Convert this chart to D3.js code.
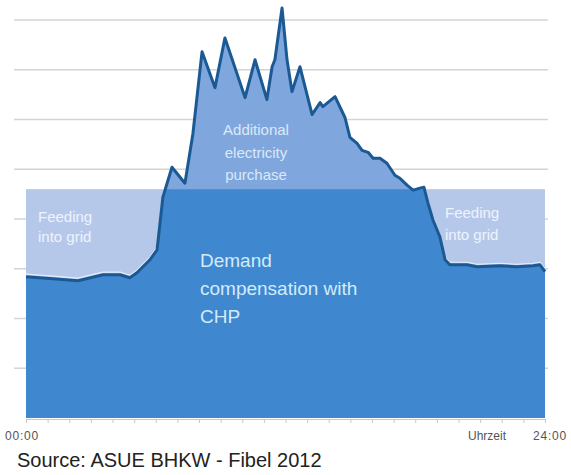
<!DOCTYPE html>
<html>
<head>
<meta charset="utf-8">
<script src="https://cdn.jsdelivr.net/npm/d3@7/dist/d3.min.js"></script>
<style>
  html, body { margin: 0; padding: 0; background: #ffffff; }
  svg { display: block; font-family: "Liberation Sans", Arial, sans-serif; }
</style>
</head>
<body>
<svg id="chart" width="571" height="475"></svg>
<script>
// Daily electricity demand profile (hour of day -> load, kW)
const hours = [0, 1.25, 2.4, 3.56, 4.35, 4.8, 5.13, 5.73, 6.06, 6.33, 6.75, 7.35, 7.72,
  8.14, 8.74, 9.2, 10.13, 10.59, 11.14, 11.38, 11.51, 11.84, 12.07, 12.3, 12.67, 13.23,
  13.6, 13.73, 14.29, 14.75, 14.98, 15.31, 15.54, 15.82, 16.05, 16.37, 16.69, 17.06,
  17.29, 17.62, 17.9, 18.22, 18.4, 18.59, 18.82, 19.14, 19.38, 19.6, 20.39, 20.86,
  21.92, 22.7, 23.44, 23.77, 24];
const demand = [142, 140, 138, 144, 144, 141, 146, 159, 169, 222, 252, 236, 286,
  368, 332, 382, 322, 360, 320, 353, 360, 412, 360, 328, 353, 305,
  317, 313, 323, 302, 282, 276, 269, 267, 261, 261, 256, 244,
  241, 234, 229, 231, 232, 216, 199, 182, 159, 154, 154, 152,
  153, 152, 153, 154, 147];
// Constant CHP output
const chpLevel = 230;
const gridValues = [0, 50, 100, 150, 200, 250, 300, 350, 400];
const hourTicks = d3.range(0, 25);
const axisLabels = ["00:00", "Uhrzeit", "24:00"];
const areaLabels = {
  purchase: ["Additional", "electricity", "purchase"],
  feedLeft: ["Feeding", "into grid"],
  feedRight: ["Feeding", "into grid"],
  chp: ["Demand", "compensation with", "CHP"]
};
const sourceText = "Source: ASUE BHKW - Fibel 2012";

const svg = d3.select("#chart");
const x = d3.scaleLinear().domain([0, 24]).range([26, 545]);
const y = d3.scaleLinear().domain([0, 400]).range([418, 20]);

const pts = hours.map((h, i) => ({ h, v: demand[i] }));
const demandArea = d3.area().x(d => x(d.h)).y0(y(0)).y1(d => y(d.v));
const demandLine = d3.line().x(d => x(d.h)).y(d => y(d.v));

// clip region below the CHP output level
svg.append("defs").append("clipPath").attr("id", "belowChp")
  .append("rect")
  .attr("x", 0).attr("width", 571)
  .attr("y", y(chpLevel)).attr("height", y(0) - y(chpLevel) + 2);

// horizontal grid lines
svg.append("g").selectAll("line").data(gridValues.slice(1)).join("line")
  .attr("x1", 14).attr("x2", 548)
  .attr("y1", d => y(d)).attr("y2", d => y(d))
  .attr("stroke", "#d4d4d4").attr("stroke-width", 1.5);

// CHP band (surplus fed into grid shows through where demand is lower)
svg.append("rect")
  .attr("x", x(0)).attr("width", x(24) - x(0))
  .attr("y", y(chpLevel)).attr("height", y(0) - y(chpLevel))
  .attr("fill", "#b6c8ea");

// full demand area (the part above CHP = additional purchase)
svg.append("path").datum(pts).attr("d", demandArea).attr("fill", "#7fa7dd");

// demand covered by CHP
svg.append("path").datum(pts).attr("d", demandArea)
  .attr("clip-path", "url(#belowChp)").attr("fill", "#3f88cf");

// thin light rim above the curve inside the feed-in band
svg.append("path").datum(pts)
  .attr("d", d3.line().x(d => x(d.h)).y(d => y(d.v) - 2.5))
  .attr("clip-path", "url(#belowChp)")
  .attr("fill", "none").attr("stroke", "#e4edf9").attr("stroke-width", 1.2);

// demand curve
svg.append("path").datum(pts).attr("d", demandLine)
  .attr("fill", "none").attr("stroke", "#1b5995").attr("stroke-width", 3)
  .attr("stroke-linejoin", "round");

// x axis with hourly ticks
const xAxis = d3.axisBottom(x).tickValues(hourTicks).tickSize(4).tickFormat("");
const gx = svg.append("g").attr("transform", `translate(0,${y(0) + 1})`).call(xAxis);
gx.select(".domain").attr("stroke", "#c8c8c8");
gx.selectAll(".tick line").attr("stroke", "#c8c8c8");

const axisText = svg.append("g").attr("font-size", 12).attr("fill", "#555");
axisText.append("text").attr("x", 5).attr("y", 440).attr("letter-spacing", 0.8)
  .text(axisLabels[0]);
axisText.append("text").attr("x", 506).attr("y", 440)
  .attr("text-anchor", "end").text(axisLabels[1]);
axisText.append("text").attr("x", 567).attr("y", 440).attr("letter-spacing", 0.8)
  .attr("text-anchor", "end").text(axisLabels[2]);

// area annotations
function block(lines, x0, y0, dy, size, color, anchor) {
  const t = svg.append("text").attr("font-size", size).attr("fill", color)
    .attr("text-anchor", anchor || "start");
  lines.forEach((s, i) => t.append("tspan").attr("x", x0).attr("y", y0 + i * dy).text(s));
}
block(areaLabels.purchase, 256, 135, 22.5, 15, "#dce7f7", "middle");
block(areaLabels.feedLeft, 38, 222, 20, 15, "#eef3fc");
block(areaLabels.feedRight, 445, 218, 22, 15, "#eef3fc");
block(areaLabels.chp, 200, 267, 28, 19, "#d3ebfb");

svg.append("text").attr("x", 17).attr("y", 467).attr("font-size", 20).attr("fill", "#222")
  .text(sourceText);
</script>
</body>
</html>
